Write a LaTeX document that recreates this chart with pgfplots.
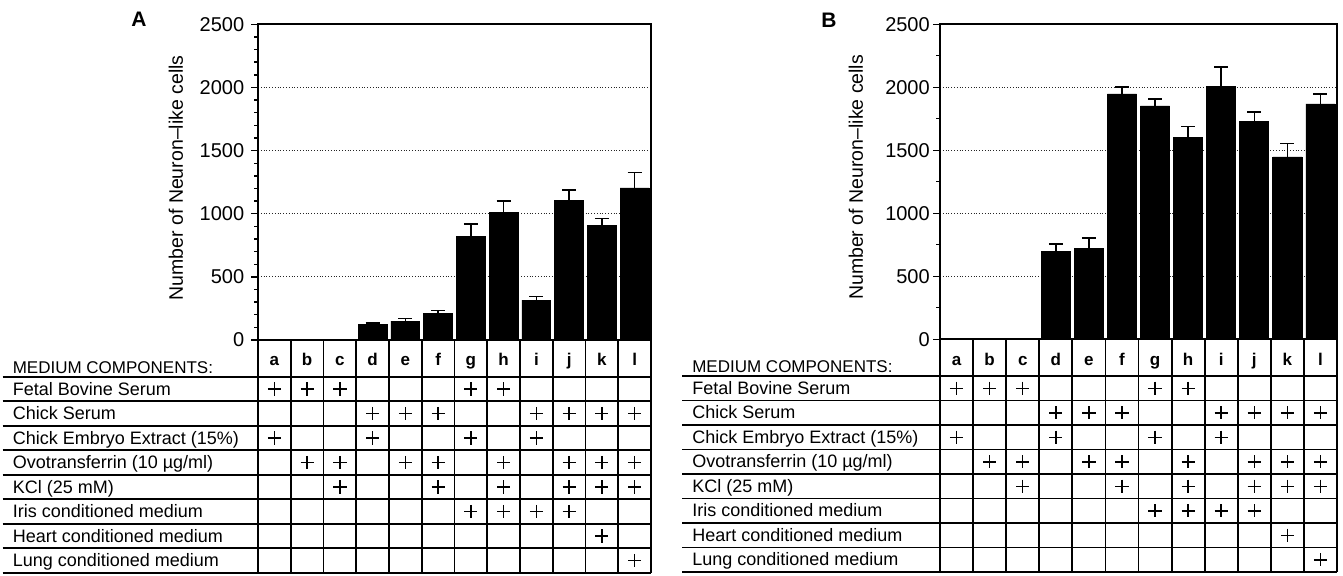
\documentclass[border=0pt]{standalone}
\usepackage{fontspec}
\setmainfont{Liberation Sans}
\usepackage{pgfplots}
\pgfplotsset{compat=1.18}
\usepackage{pgfplotstable}

\pgfplotstableread{
x y e
0 0 0
1 0 0
2 0 0
3 125 10
4 150 20
5 210 22
6 820 100
7 1010 92
8 315 30
9 1108 82
10 905 57
11 1204 122
}\dataA

\pgfplotstableread{
x y e
0 0 0
1 0 0
2 0 0
3 695 59
4 722 84
5 1947 53
6 1852 55
7 1600 88
8 2010 149
9 1727 75
10 1447 106
11 1868 79
}\dataB

\pgfplotstableread{
x y
0 1
0 3
1 1
1 4
2 1
2 4
2 5
3 2
3 3
4 2
4 4
5 2
5 4
5 5
6 1
6 3
6 6
7 1
7 4
7 5
7 6
8 2
8 3
8 6
9 2
9 4
9 5
9 6
10 2
10 4
10 5
10 7
11 2
11 4
11 5
11 8
}\plusA

\pgfplotstableread{
x y
0 1
0 3
1 1
1 4
2 1
2 4
2 5
3 2
3 3
4 2
4 4
5 2
5 4
5 5
6 1
6 3
6 6
7 1
7 4
7 5
7 6
8 2
8 3
8 6
9 2
9 4
9 5
9 6
10 2
10 4
10 5
10 7
11 2
11 4
11 5
11 8
}\plusB

\newcommand\rowfont{\fontsize{9}{10}\selectfont}
\newcommand\letfont{\bfseries\fontsize{8.5}{9}\selectfont}
\newcommand\tablecontent{%
  \node[anchor=base west, inner sep=0pt, font=\fontsize{8.5}{10}\selectfont] at (axis cs:-8.0,0.37) {MEDIUM COMPONENTS:};
  \node[anchor=base west, inner sep=0pt, font=\rowfont] at (axis cs:-8.0,1.25) {Fetal Bovine Serum};
  \node[anchor=base west, inner sep=0pt, font=\rowfont] at (axis cs:-8.0,2.25) {Chick Serum};
  \node[anchor=base west, inner sep=0pt, font=\rowfont] at (axis cs:-8.0,3.25) {Chick Embryo Extract (15\%)};
  \node[anchor=base west, inner sep=0pt, font=\rowfont] at (axis cs:-8.0,4.25) {Ovotransferrin (10 µg/ml)};
  \node[anchor=base west, inner sep=0pt, font=\rowfont] at (axis cs:-8.0,5.25) {KCl (25 mM)};
  \node[anchor=base west, inner sep=0pt, font=\rowfont] at (axis cs:-8.0,6.25) {Iris conditioned medium};
  \node[anchor=base west, inner sep=0pt, font=\rowfont] at (axis cs:-8.0,7.25) {Heart conditioned medium};
  \node[anchor=base west, inner sep=0pt, font=\rowfont] at (axis cs:-8.0,8.25) {Lung conditioned medium};
  \node[anchor=base, inner sep=0pt, font=\letfont] at (axis cs:0,0.05) {a};
  \node[anchor=base, inner sep=0pt, font=\letfont] at (axis cs:1,0.05) {b};
  \node[anchor=base, inner sep=0pt, font=\letfont] at (axis cs:2,0.05) {c};
  \node[anchor=base, inner sep=0pt, font=\letfont] at (axis cs:3,0.05) {d};
  \node[anchor=base, inner sep=0pt, font=\letfont] at (axis cs:4,0.05) {e};
  \node[anchor=base, inner sep=0pt, font=\letfont] at (axis cs:5,0.05) {f};
  \node[anchor=base, inner sep=0pt, font=\letfont] at (axis cs:6,0.05) {g};
  \node[anchor=base, inner sep=0pt, font=\letfont] at (axis cs:7,0.05) {h};
  \node[anchor=base, inner sep=0pt, font=\letfont] at (axis cs:8,0.05) {i};
  \node[anchor=base, inner sep=0pt, font=\letfont] at (axis cs:9,0.05) {j};
  \node[anchor=base, inner sep=0pt, font=\letfont] at (axis cs:10,0.05) {k};
  \node[anchor=base, inner sep=0pt, font=\letfont] at (axis cs:11,0.05) {l};
}

\pgfplotsset{
  barax/.style={
    scale only axis, xmin=-0.5, xmax=11.5, ymin=0, ymax=2500,
    xtick=\empty, ytick={0,500,...,2500},
    ymajorgrids, major grid style={densely dotted, black!85, line width=0.55pt},
    axis line style={line width=0.8pt, black},
    tick style={line width=0.7pt, black},
    tick align=outside, ytick pos=left,
    major tick length=3.4pt, minor tick length=2pt,
    /pgf/number format/assume math mode=true,
    /pgf/number format/1000 sep={},
    yticklabel style={font=\fontsize{10}{12}\selectfont},
    ylabel={Number of Neuron--like cells},
    ylabel style={font=\fontsize{9.75}{12}\selectfont, anchor=center},
  },
  tabax/.style={
    scale only axis, xmin=-8.3, xmax=11.5, ymin=-1, ymax=8.5, y dir=reverse,
    clip=false, height=116.375pt,
    xtick={-0.5,0.5,...,11.5}, ytick={0.5,1.5,...,8.5},
    xticklabels={}, yticklabels={},
    grid=major, major grid style={black, line width=0.9pt},
    axis line style={draw=none}, major tick length=0pt,
  },
  barplot/.style={
    ybar, bar width=0.88, fill=black, draw=black,
    error bars/.cd, y dir=plus, y explicit,
    error bar style={line width=0.8pt, black},
    error mark options={line width=0.8pt, black, mark size=3.5pt, rotate=90},
  },
  plusplot/.style={only marks, mark=+, mark size=3.3pt, mark options={line width=0.75pt, black}},
}

\begin{document}
\begin{tikzpicture}
\path[use as bounding box] (0,0) rectangle (671.5pt,-288pt);

% Panel A
\begin{axis}[barax, at={(129pt,-170pt)}, anchor=south west, width=196.5pt, height=157.85pt,
  minor y tick num=4,
  ylabel style={at={(axis description cs:-0.2087,0.5135)}}]
\addplot[barplot] table[x=x, y=y, y error=e] {\dataA};
\end{axis}
\begin{axis}[tabax, at={(325.5pt,-170pt)}, anchor=north east, width=324.2pt]
\addplot[plusplot] table[x=x, y=y] {\plusA};
\tablecontent
\end{axis}

% Panel B
\begin{axis}[barax, at={(470pt,-169.65pt)}, anchor=south west, width=198.5pt, height=157.5pt,
  minor y tick num=1,
  yticklabel style={xshift=1.8pt},
  ylabel style={at={(axis description cs:-0.2116,0.514)}}]
\addplot[barplot] table[x=x, y=y, y error=e] {\dataB};
\end{axis}
\begin{axis}[tabax, at={(668.5pt,-169.65pt)}, anchor=north east, width=327.5pt]
\addplot[plusplot] table[x=x, y=y] {\plusB};
\tablecontent
\end{axis}

\node[font=\bfseries\fontsize{10.5}{12}\selectfont] at (69.5pt,-9.5pt) {A};
\node[font=\bfseries\fontsize{10.5}{12}\selectfont] at (414.5pt,-10.25pt) {B};
\end{tikzpicture}
\end{document}
